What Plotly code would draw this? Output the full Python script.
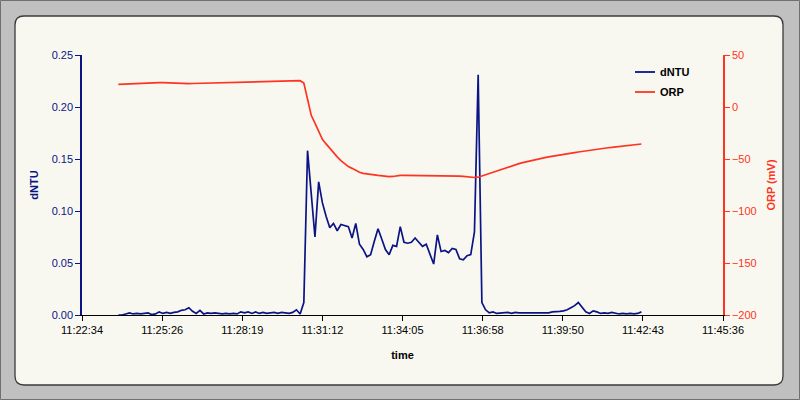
import plotly.graph_objects as go

# ---------------- data ----------------
# sample clock: seconds since midnight, one reading every 8 s from 11:23:52
t_start = 41032
t_step = 8

dntu = [
    0.000, 0.000, 0.001, 0.002, 0.001, 0.0015, 0.001, 0.0015, 0.002, 0.0005,
    0.001, 0.003, 0.0015, 0.0025, 0.0015, 0.0025, 0.003, 0.0045, 0.005, 0.007,
    0.0035, 0.0015, 0.0045, 0.001, 0.002, 0.0015, 0.002, 0.0015, 0.001, 0.0015,
    0.001, 0.0015, 0.001, 0.003, 0.002, 0.003, 0.0015, 0.003, 0.0015, 0.0025,
    0.0015, 0.002, 0.0025, 0.0015, 0.0025, 0.002, 0.0015, 0.0025, 0.005, 0.001,
    0.012, 0.158, 0.115, 0.075, 0.128, 0.108, 0.095, 0.084, 0.088, 0.081,
    0.087, 0.086, 0.085, 0.074, 0.088, 0.068, 0.063, 0.056, 0.058, 0.071,
    0.083, 0.073, 0.063, 0.058, 0.067, 0.066, 0.085, 0.070, 0.069, 0.070,
    0.074, 0.070, 0.066, 0.068, 0.058, 0.049, 0.077, 0.061, 0.062, 0.060,
    0.064, 0.063, 0.054, 0.053, 0.057, 0.058, 0.080, 0.231, 0.012, 0.005,
    0.002, 0.003, 0.0015, 0.002, 0.002, 0.0025, 0.0015, 0.0025, 0.002, 0.002,
    0.0025, 0.002, 0.002, 0.0025, 0.002, 0.0025, 0.002, 0.003, 0.003, 0.0035,
    0.004, 0.005, 0.007, 0.009, 0.012, 0.007, 0.003, 0.0015, 0.004, 0.003,
    0.0015, 0.002, 0.0015, 0.0025, 0.002, 0.001, 0.0015, 0.001, 0.0015, 0.001,
    0.0015, 0.003,
]

orp = [
    21.8, 22.0, 22.0, 22.0, 22.4, 22.5, 22.8, 23.0, 23.2, 23.4,
    23.4, 23.4, 23.4, 23.2, 23.0, 22.8, 22.6, 22.5, 22.4, 22.5,
    22.6, 22.7, 22.8, 22.8, 22.8, 22.8, 22.8, 23.0, 23.2, 23.4,
    23.6, 23.8, 24.0, 24.0, 24.0, 24.1, 24.2, 24.3, 24.4, 24.5,
    24.6, 24.7, 24.8, 24.9, 25.0, 25.1, 25.2, 25.3, 25.3, 25.3,
    23.0, 7.0, -8.0, -15.5, -24.0, -31.0, -35.5, -40.0, -44.0, -48.0,
    -51.5, -54.5, -57.3, -59.0, -61.0, -62.8, -63.8, -64.5, -65.0, -65.3,
    -65.8, -66.3, -66.8, -67.0, -66.8, -66.2, -65.8, -65.8, -65.8, -65.8,
    -65.8, -65.8, -65.8, -65.8, -65.8, -65.8, -65.8, -66.0, -66.0, -66.0,
    -66.0, -66.3, -66.5, -66.8, -67.2, -67.6, -67.8, -67.5, -66.3, -64.8,
    -63.4, -62.2, -61.1, -59.9, -58.8, -57.7, -56.7, -55.6, -54.5, -53.5,
    -52.6, -51.8, -51.0, -50.2, -49.4, -48.7, -48.0, -47.3, -46.7, -46.1,
    -45.5, -45.0, -44.4, -43.8, -43.3, -42.7, -42.2, -41.6, -41.1, -40.6,
    -40.1, -39.6, -39.2, -38.9, -38.5, -38.2, -37.8, -37.3, -36.8, -36.4,
    -36.0, -35.6,
]

times = [t_start + t_step * i for i in range(len(dntu))]

# x axis: Excel-style day fractions 0.474 .. 0.490 step 0.002 day (172.8 s)
x_tick_vals = [40953.6, 41126.4, 41299.2, 41472.0, 41644.8, 41817.6, 41990.4, 42163.2, 42336.0]
x_tick_text = ["11:22:34", "11:25:26", "11:28:19", "11:31:12", "11:34:05",
               "11:36:58", "11:39:50", "11:42:43", "11:45:36"]

series_names = ["dNTU", "ORP"]

# ---------------- style ----------------
NAVY = "#0a1485"
RED = "#ff3322"
FONT = "Liberation Sans, Arial, sans-serif"

W, H = 800, 400
L, R, T, B = 82, 77, 55, 85
PW, PH = W - L - R, H - T - B


def fx(px):
    return (px - L) / PW


def fy(py):
    return (T + PH - py) / PH


fig = go.Figure()
fig.add_trace(go.Scatter(x=times, y=dntu, name=series_names[0], mode="lines",
                         line=dict(color=NAVY, width=1.7), yaxis="y"))
fig.add_trace(go.Scatter(x=times, y=orp, name=series_names[1], mode="lines",
                         line=dict(color=RED, width=1.7), yaxis="y2"))

# rounded inner panel
x1, x2, y1, y2, r = 15, 783, 16, 385, 9
pts = [
    ("M", (x1 + r, y1)), ("L", (x2 - r, y1)), ("Q", (x2, y1), (x2, y1 + r)),
    ("L", (x2, y2 - r)), ("Q", (x2, y2), (x2 - r, y2)), ("L", (x1 + r, y2)),
    ("Q", (x1, y2), (x1, y2 - r)), ("L", (x1, y1 + r)), ("Q", (x1, y1), (x1 + r, y1)),
]
path = ""
for seg in pts:
    cmd = seg[0]
    coords = " ".join(f"{fx(p[0]):.5f},{fy(p[1]):.5f}" for p in seg[1:])
    path += f"{cmd}{coords} "
path += "Z"

shapes = [
    dict(type="rect", xref="paper", yref="paper", layer="below",
         x0=fx(0.5), x1=fx(799.5), y0=fy(0.5), y1=fy(399.5),
         line=dict(color="#707070", width=1), fillcolor="#c0c0c0"),
    dict(type="path", xref="paper", yref="paper", layer="below", path=path,
         line=dict(color="#3a3a3a", width=1.3), fillcolor="#f8f8f0"),
]

# hand-drawn legend (short line samples like the original)
annotations = []
for k, (nm, col) in enumerate(zip(series_names, [NAVY, RED])):
    yy = 72 + 20 * k
    shapes.append(dict(type="line", xref="paper", yref="paper",
                       x0=fx(635), x1=fx(655), y0=fy(yy), y1=fy(yy),
                       line=dict(color=col, width=1.8)))
    annotations.append(dict(xref="paper", yref="paper", x=fx(658), y=fy(yy),
                            xanchor="left", yanchor="middle", showarrow=False,
                            text=nm,
                            font=dict(family=FONT, size=11, color="black", weight="bold")))

fig.update_layout(
    width=W, height=H,
    margin=dict(l=L, r=R, t=T, b=B, autoexpand=False),
    paper_bgcolor="#c0c0c0",
    plot_bgcolor="rgba(0,0,0,0)",
    font=dict(family=FONT, size=11, color="black"),
    shapes=shapes,
    annotations=annotations,
    showlegend=False,
    xaxis=dict(range=[x_tick_vals[0], x_tick_vals[-1]], tickmode="array",
               tickvals=x_tick_vals, ticktext=x_tick_text,
               showline=True, linecolor="black", linewidth=1.3,
               ticks="outside", ticklen=5, tickcolor="black", tickwidth=1.3,
               showgrid=False, zeroline=False,
               tickfont=dict(family=FONT, size=11, color="black"),
               title=dict(text="time", standoff=15,
                          font=dict(family=FONT, size=11, color="black", weight="bold"))),
    yaxis=dict(range=[0, 0.25], dtick=0.05, tickformat=".2f",
               showline=True, linecolor=NAVY, linewidth=1.5,
               ticks="outside", ticklen=5, tickcolor=NAVY, tickwidth=1.3,
               showgrid=False, zeroline=False,
               tickfont=dict(family=FONT, size=11, color=NAVY),
               title=dict(text="dNTU", standoff=11,
                          font=dict(family=FONT, size=11, color=NAVY, weight="bold"))),
    yaxis2=dict(range=[-200, 50], dtick=50, overlaying="y", side="right",
                showline=True, linecolor=RED, linewidth=1.5,
                ticks="outside", ticklen=5, tickcolor=RED, tickwidth=1.3,
                showgrid=False, zeroline=False,
                tickfont=dict(family=FONT, size=11, color=RED),
                title=dict(text="ORP (mV)", standoff=12,
                           font=dict(family=FONT, size=11, color=RED, weight="bold"))),
)

fig.write_html("out.html", config={"displayModeBar": False},
               post_script="document.body.style.margin='0';")
